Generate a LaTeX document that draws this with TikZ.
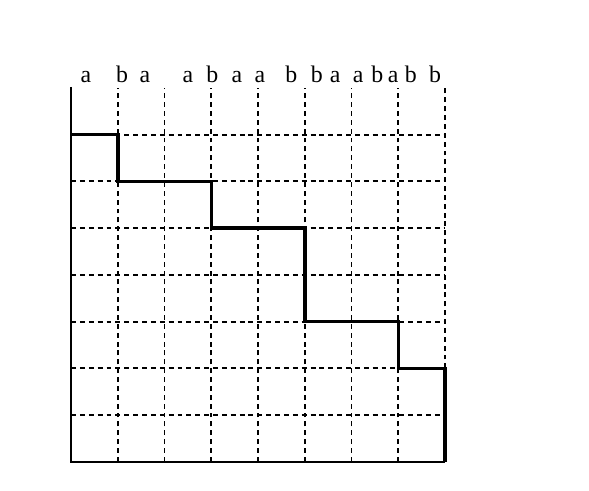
\documentclass[tikz,border=0pt]{standalone}
\usepackage{fontspec}
\setmainfont{Liberation Serif}
\usepackage{tikz}

\begin{document}
\begin{tikzpicture}[x=1cm, y=1cm,
    gridline/.style={line width=1.15pt, dash pattern=on 3pt off 2.4pt},
    axisline/.style={line width=1.3pt},
    stairline/.style={line width=2.1pt, line join=miter},
    letter/.style={anchor=base, inner sep=0pt, font=\fontsize{14.5}{16}\selectfont}]
            \useasboundingbox (-1.52,-0.62) rectangle (11.08,9.88);
            \coordinate (O) at (0,0);
            \coordinate (T) at (0,8.02);
            \coordinate (E) at (8,0);
            % dashed grid
            \foreach \i in {1,...,7}
                \draw[gridline] (0,\i) -- (8,\i);
            \foreach \i in {1,...,7}
                \draw[gridline] (\i,0) -- (\i,8);
            \draw[gridline] (8,2) -- (8,8);
            % axes
            \draw[axisline] (T) -- (O) -- (E);
            % staircase path
            \coordinate (P0) at (0,7);
            \coordinate (P1) at (1,7);
            \coordinate (P2) at (1,6);
            \coordinate (P3) at (3,6);
            \coordinate (P4) at (3,5);
            \coordinate (P5) at (5,5);
            \coordinate (P6) at (5,3);
            \coordinate (P7) at (7,3);
            \coordinate (P8) at (7,2);
            \coordinate (P9) at (8,2);
            \draw[stairline] (P0) -- (P1) -- (P2) -- (P3) -- (P4) -- (P5)
                -- (P6) -- (P7) -- (P8) -- (P9) -- (E);
            % letters on top
            \foreach \x/\c [count=\k] in {0.32/a, 1.09/b, 1.58/a, 2.50/a, 3.02/b,
                    3.55/a, 4.04/a, 4.71/b, 5.26/b, 5.65/a, 6.14/a, 6.55/b,
                    6.89/a, 7.27/b, 7.79/b}
                \node[letter] (l\k) at (\x,8.12) {\c};
        \end{tikzpicture}
\end{document}
